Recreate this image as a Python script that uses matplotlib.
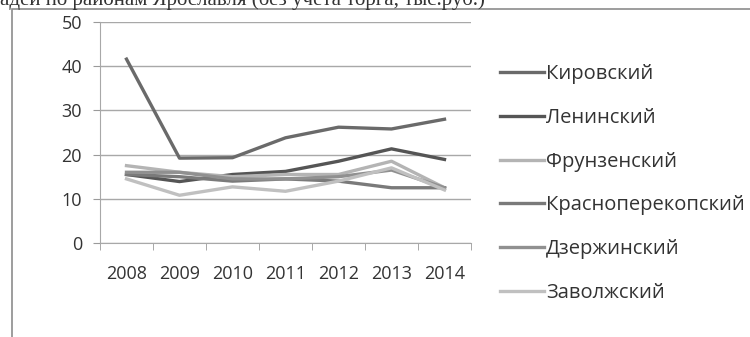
import matplotlib.pyplot as plt
from matplotlib.lines import Line2D

years = ['2008', '2009', '2010', '2011', '2012', '2013', '2014']

kirovsky = [41.6, 19.2, 19.3, 23.8, 26.2, 25.8, 28.0]
leninsky = [15.5, 13.9, 15.5, 16.2, 18.5, 21.3, 18.9]
frunzensky = [17.5, 16.0, 15.0, 15.5, 15.5, 18.5, 12.5]
krasnoperekopsky = [15.5, 15.0, 14.0, 14.5, 14.0, 12.5, 12.5]
dzerzhinsky = [16.0, 16.0, 14.5, 14.5, 15.0, 16.5, 12.5]
zavolzhsky = [14.5, 10.8, 12.7, 11.7, 14.0, 17.0, 12.0]

names = ['Кировский', 'Ленинский', 'Фрунзенский',
         'Красноперекопский', 'Дзержинский', 'Заволжский']
series = [kirovsky, leninsky, frunzensky, krasnoperekopsky, dzerzhinsky, zavolzhsky]
colors = ['#6a6a6a', '#555555', '#b4b4b4', '#7a7a7a', '#909090', '#c0c0c0']

plt.rcParams['font.family'] = ['Open Sans', 'DejaVu Sans']

fig = plt.figure(figsize=(7.5, 3.37), dpi=100)

# outer frame of the chart area
frame = plt.Rectangle((12 / 750, -0.1), 1.0, (337 - 9) / 337 + 0.1,
                      transform=fig.transFigure, fill=False,
                      edgecolor='#8c8c8c', linewidth=1.2)
fig.add_artist(frame)

# heading, only its lower part is visible
fig.text(485 / 750, 1.0, 'площадей по районам Ярославля (без учета торга, тыс.руб.)',
         ha='right', va='center', fontsize=15, color='#333333',
         family=['Liberation Serif', 'DejaVu Serif'])

ax = fig.add_axes([100 / 750, (337 - 243) / 337, 371 / 750, 221 / 337])

x = list(range(len(years)))
for vals, c in zip(series, colors):
    ax.plot(x, vals, color=c, linewidth=2.4, solid_joinstyle='round')

ax.set_xlim(-0.5, len(years) - 0.5)
ax.set_ylim(0, 50)
ax.set_yticks([0, 10, 20, 30, 40, 50])
ax.set_xticks(x)
ax.set_xticklabels(years)
ax.set_xticks([i - 0.5 for i in range(len(years) + 1)], minor=True)
ax.tick_params(axis='x', which='major', length=0, pad=16, labelsize=13, colors='#333333')
ax.tick_params(axis='x', which='minor', length=5, color='#9a9a9a')
ax.tick_params(axis='y', length=5, pad=8, labelsize=13, colors='#333333')
ax.tick_params(axis='y', color='#9a9a9a')

ax.grid(axis='y', color='#a8a8a8', linewidth=1.0)
ax.set_axisbelow(True)
for side in ['top', 'right']:
    ax.spines[side].set_visible(False)
ax.spines['left'].set_color('#a8a8a8')
ax.spines['bottom'].set_color('#a8a8a8')

handles = [Line2D([0], [0], color=c, linewidth=2.4) for c in colors]
fig.legend(handles, names, loc='upper left', bbox_to_anchor=(492 / 750, 1 - 56 / 337),
           frameon=False, fontsize=14.5, handlelength=2.2, handletextpad=0.1,
           labelspacing=1.18, labelcolor='#333333', borderaxespad=0)

fig.savefig('out.png', dpi=100)
plt.close(fig)
